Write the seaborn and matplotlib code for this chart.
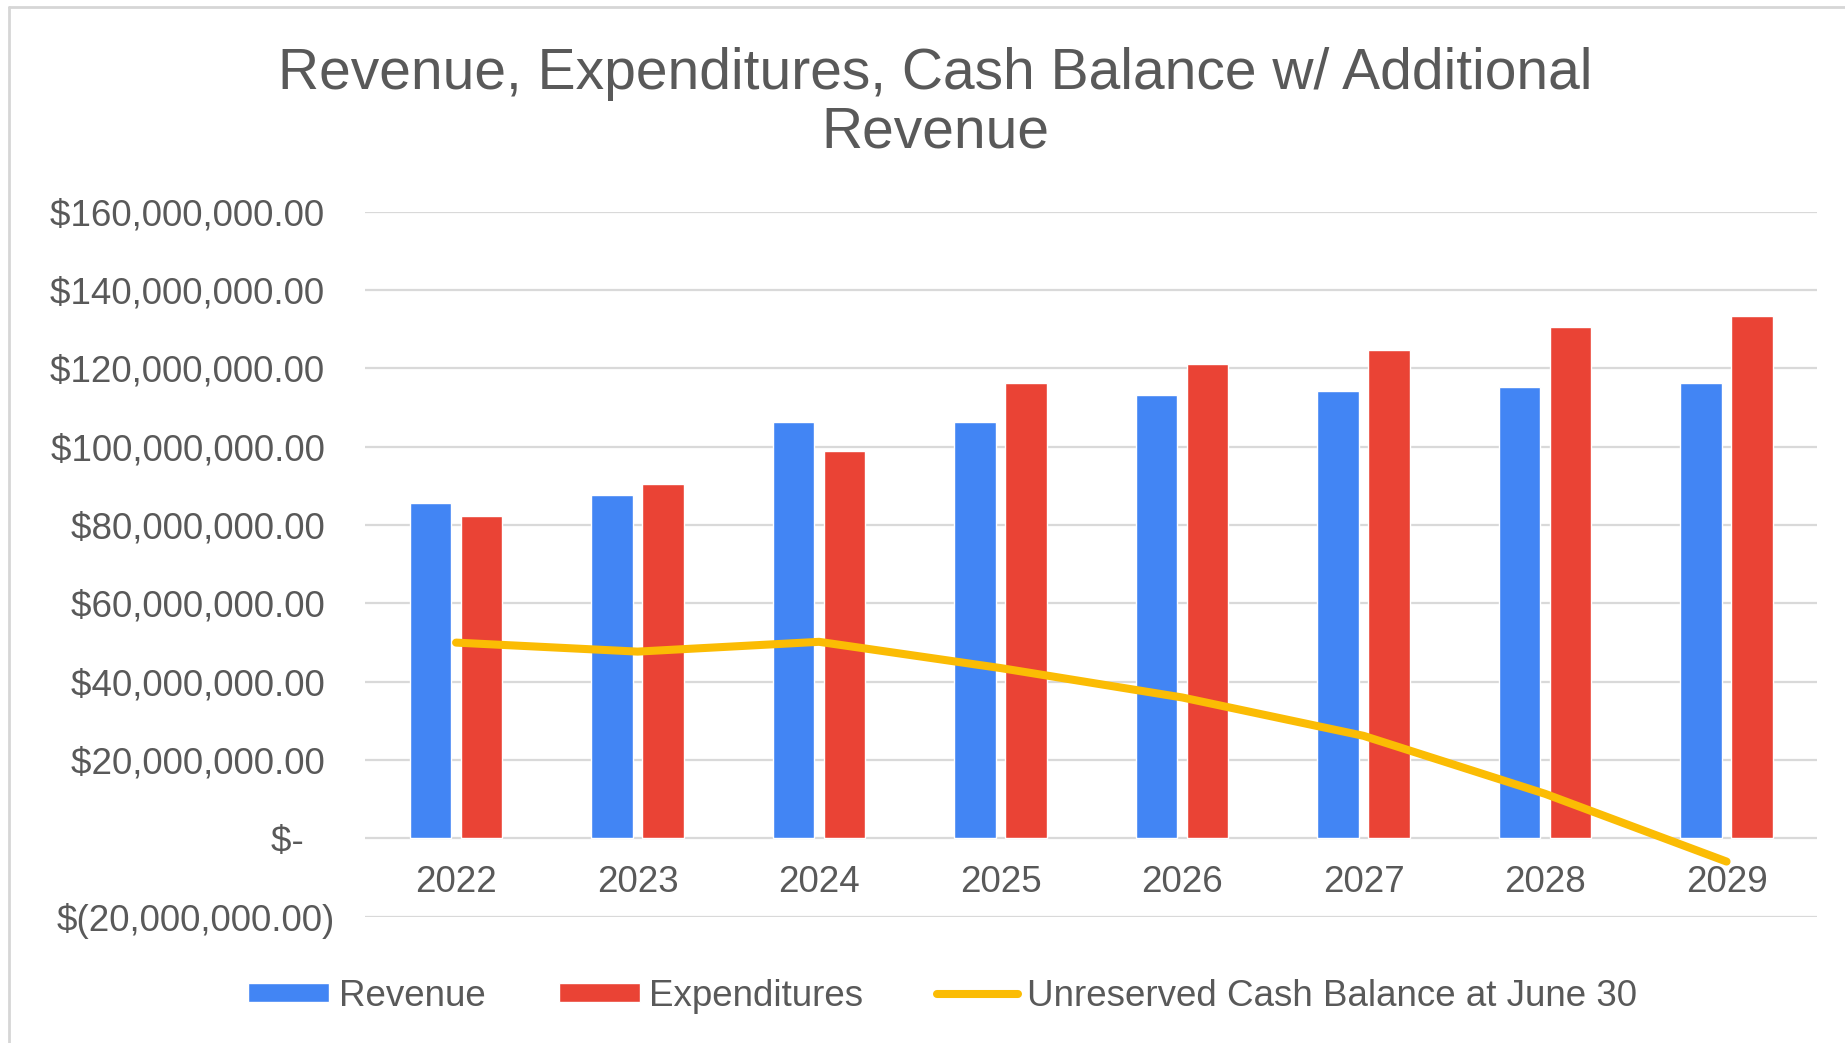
import numpy as np
import pandas as pd
import seaborn as sns
import matplotlib.pyplot as plt
from matplotlib.ticker import FuncFormatter, MultipleLocator
from matplotlib.patches import Patch
from matplotlib.lines import Line2D

# values (dollars)
years = [2022, 2023, 2024, 2025, 2026, 2027, 2028, 2029]
revenue = [85.7e6, 87.6e6, 106.2e6, 106.3e6, 113.3e6, 114.3e6, 115.3e6, 116.2e6]
expenditures = [82.4e6, 90.4e6, 98.9e6, 116.2e6, 121.0e6, 124.8e6, 130.5e6, 133.3e6]
cash_balance = [50.0e6, 47.7e6, 50.2e6, 43.5e6, 36.0e6, 26.2e6, 11.4e6, -5.9e6]

series_names = ['Revenue', 'Expenditures']
legend_labels = ['Revenue', 'Expenditures', 'Unreserved Cash Balance at June 30']
title = 'Revenue, Expenditures, Cash Balance w/ Additional\nRevenue'

blue = '#4285F4'
red = '#EA4335'
yellow = '#FBBC04'
grey_text = '#595959'

df = pd.DataFrame({
    'year': years * 2,
    'value': revenue + expenditures,
    'series': [series_names[0]] * len(years) + [series_names[1]] * len(years),
})

sns.set_style('white')
plt.rcParams['font.family'] = ['Liberation Sans', 'DejaVu Sans']

fig = plt.figure(figsize=(18.45, 10.43), dpi=100)
ax = fig.add_axes([0.198, 0.121, 0.787, 0.676])

sns.barplot(data=df, x='year', y='value', hue='series', palette=[blue, red],
            width=0.56, gap=0.18, saturation=1, legend=False, ax=ax)
sns.pointplot(x=years, y=cash_balance, color=yellow, markers='', errorbar=None,
              linewidth=5.8, ax=ax)
for ln in ax.lines:
    ln.set_solid_capstyle('round')
    ln.set_zorder(5)

ax.set_xlim(-0.5, len(years) - 0.5)
ax.set_ylim(-20e6, 160e6)
ax.yaxis.set_major_locator(MultipleLocator(20e6))


def money(v, pos):
    if abs(v) < 1:
        return '$-   '
    if v < 0:
        return '$({:,.2f})'.format(-v)
    return '${:,.2f} '.format(v)


ax.yaxis.set_major_formatter(FuncFormatter(money))
ax.grid(axis='y', color='#d9d9d9', linewidth=1.6)
ax.set_axisbelow(True)
for s in ax.spines.values():
    s.set_visible(False)
ax.spines['bottom'].set_position(('data', 0))
ax.tick_params(axis='y', length=0, pad=22, labelsize=26.5, labelcolor=grey_text)
ax.tick_params(axis='x', length=0, pad=19, labelsize=26.5, labelcolor=grey_text)
ax.set_xlabel('')
ax.set_ylabel('')

fig.text(0.507, 0.901, title, ha='center', va='center', fontsize=41,
         color=grey_text, linespacing=1.13)

handles = [Patch(facecolor=blue), Patch(facecolor=red),
           Line2D([0], [0], color=yellow, linewidth=5.8, solid_capstyle='round')]
fig.legend(handles, legend_labels, loc='center', bbox_to_anchor=(0.511, 0.045),
           ncol=3, frameon=False, fontsize=26.5, handlelength=2.2, handleheight=0.45,
           handletextpad=0.25, columnspacing=2.0, labelcolor=grey_text)

# light frame around the chart
fig.add_artist(Line2D([9 / 1845, 9 / 1845], [0, 1 - 7 / 1043], color='#d6d6d6', linewidth=2))
fig.add_artist(Line2D([9 / 1845, 1], [1 - 7 / 1043, 1 - 7 / 1043], color='#d6d6d6', linewidth=2))

fig.savefig('out.png', dpi=100)
